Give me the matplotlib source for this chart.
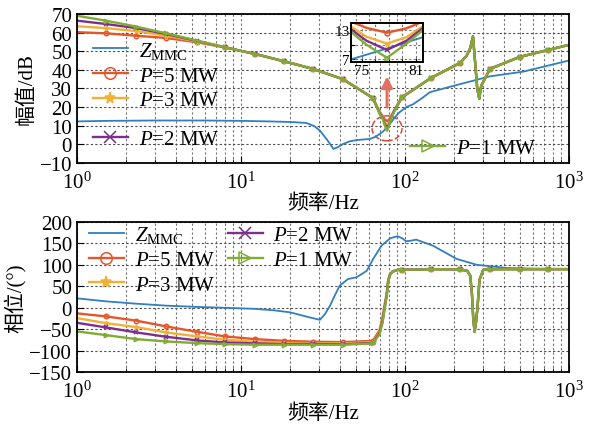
import matplotlib
matplotlib.use('Agg')
import matplotlib.pyplot as plt
from matplotlib.patches import Ellipse
from matplotlib.transforms import ScaledTranslation

plt.rcParams['font.family'] = ['Liberation Serif', 'Noto Sans CJK SC']
plt.rcParams['mathtext.fontset'] = 'custom'
plt.rcParams['mathtext.rm'] = 'Liberation Serif'
plt.rcParams['mathtext.it'] = 'Liberation Serif:italic'
plt.rcParams['font.size'] = 15

# ---- Z_MMC magnitude / phase ----
f_zmag = [1, 1.5, 3, 6, 10, 15, 20, 25, 28, 30.3, 33.5, 36.7, 39, 42, 46, 50.7, 61, 66, 70,
          74, 78, 82, 86, 92, 102, 112, 128, 142, 190, 330, 525, 1000]
zmmc_mag = [12.3, 12.6, 12.8, 12.8, 12.6, 12.3, 12.0, 11.5, 9.8, 7.4, 2.5, -2.5, -1.5, 0.2,
            1.6, 2.3, 2.9, 4.0, 5.5, 7.1, 9.3, 11.6, 14.0, 17.0, 20.0, 21.5, 25.0, 28.0,
            31.0, 36.5, 39.0, 45.0]

f_zph = [1, 1.5, 2.3, 3.5, 5.4, 8, 12.2, 16, 20, 26.3, 30.3, 32.5, 34.9, 37.5, 40, 45, 50.7,
         58.5, 64, 72, 81.5, 90, 96, 101.7, 108, 117, 148, 207, 275, 417, 600, 1000]
zmmc_ph = [22, 15, 9.5, 5, 2, 0, -2.5, -6, -10.7, -22.5, -28, -15, 4.7, 30, 51.4, 67, 71,
           86, 113.7, 144.7, 162, 166.6, 162, 155, 156, 158.7, 144.7, 113.7, 100, 92.7,
           91, 90.5]

# ---- grid-connected impedance, P = 5/3/2/1 MW ----
f_mag = [1, 1.5, 2.3, 3.5, 5.4, 8, 12.2, 18.3, 27.5, 41.8, 63.7,
         70, 73, 75.5, 77.8, 80, 82.5, 86,
         96, 144, 217, 238, 250, 260, 268, 276, 284, 292, 330, 500, 750, 1000]
mag_mid = [48.5, 44.6, 40.5, 35.0, 24.9]
mag_tail = [25.3, 35.6, 43.7, 47.6, 51.5, 58.0, 44.0, 30.0, 24.4, 31.5, 40.5, 46.9,
            50.7, 53.4]
mag_p5 = [60.2, 59.6, 58.3, 57.1, 54.8, 52.0] + mag_mid + \
         [17.5, 15.3, 13.4, 12.4, 13.3, 15.2, 18.3] + mag_tail
mag_p3 = [63.4, 62.4, 60.8, 58.3, 55.2, 52.0] + mag_mid + \
         [17.0, 14.6, 11.6, 10.2, 11.5, 14.6, 18.0] + mag_tail
mag_p2 = [66.4, 64.6, 62.4, 59.2, 55.5, 52.1] + mag_mid + \
         [16.8, 14.2, 10.8, 8.9, 10.8, 14.3, 17.8] + mag_tail
mag_p1 = [69.0, 66.4, 63.2, 59.6, 55.7, 52.1] + mag_mid + \
         [16.5, 13.8, 10.0, 7.3, 10.2, 14.0, 17.5] + mag_tail

f_ph = [1, 1.5, 2.3, 3.5, 5.4, 8, 12.2, 18.3, 27.5, 41.8, 63.7,
        70, 73, 75, 77.5, 79, 81, 84, 90,
        96, 144, 217, 240, 250, 256, 261, 266, 271, 277, 285, 300, 330, 500, 750, 1000]
ph_tail = [88.5, 90, 89.5, 86, 75, 35, -25, -56, -35, 0, 65, 88, 90, 90, 90, 90]
ph_p5 = [-13, -20, -30, -43.4, -56, -66.7, -73, -77, -79, -80, -77,
         -52, -22, 5, 35, 64, 78, 85, 88] + ph_tail
ph_p3 = [-24, -35.7, -45, -57.4, -66.7, -74.5, -79, -82, -82, -83, -80,
         -56, -28, 0, 32, 62, 77, 84.5, 88] + ph_tail
ph_p2 = [-35, -45.7, -57.4, -67.5, -76, -80.7, -83, -84.6, -84, -85, -82,
         -59, -32, -3, 30, 61, 76.5, 84, 88] + ph_tail
ph_p1 = [-55, -63.6, -73, -78.4, -82.3, -84.6, -86, -86, -86, -86, -83,
         -62, -35, -5, 28, 60, 76, 84, 88] + ph_tail

# frequencies carrying a marker
mark_f = [1.5, 2.3, 3.5, 5.4, 8, 12.2, 18.3, 27.5, 41.8, 63.7, 96, 144, 217, 330, 500, 750]
f_dip = 77.8

labels = [r'$Z_{\mathrm{MMC}}$', r'$P$=5 MW', r'$P$=3 MW', r'$P$=2 MW', r'$P$=1 MW']
colors = ['#2f7fc1', '#e5562a', '#f2b134', '#7e2f8e', '#80ac35']
markers = [None, 'o', '*', 'x', '>']

mag_series = [mag_p5, mag_p3, mag_p2, mag_p1]
ph_series = [ph_p5, ph_p3, ph_p2, ph_p1]


def style_axes(ax, ylim, yticks):
    ax.set_xscale('log')
    ax.set_xlim(1, 1000)
    ax.set_ylim(*ylim)
    ax.set_yticks(yticks)
    ax.grid(True, which='both', axis='x', ls=(0, (2, 2)), color='0.45', lw=0.8)
    ax.grid(True, which='major', axis='y', ls=(0, (2, 2)), color='0.3', lw=0.8)
    ax.tick_params(which='both', direction='in', labelsize=15)
    ax.tick_params(which='major', length=5)
    ax.tick_params(which='minor', length=3)
    ax.tick_params(axis='x', which='major', pad=6)
    for s in ax.spines.values():
        s.set_linewidth(1.3)
    ax.set_xlabel('频率/Hz', fontsize=15, labelpad=1)


def draw_curves(ax, f_z, z, f_p, series, ms=3.2, every=None):
    handles = [ax.plot(f_z, z, color=colors[0], lw=1.3)[0]]
    for k, vals in enumerate(series):
        me = every if every is not None else [f_p.index(f) for f in mark_f if f in f_p]
        hnd, = ax.plot(f_p, vals, color=colors[k + 1], lw=1.7, marker=markers[k + 1],
                       ms=ms, mfc='none' if markers[k + 1] in ('o', '>') else colors[k + 1],
                       mew=1.1, markevery=me)
        handles.append(hnd)
    return handles


fig = plt.figure(figsize=(5.92, 4.27), dpi=100)
ax1 = fig.add_axes([0.130, 0.616, 0.831, 0.349])
ax2 = fig.add_axes([0.130, 0.126, 0.831, 0.352])

# magnitude
h = draw_curves(ax1, f_zmag, zmmc_mag, f_mag, mag_series)
style_axes(ax1, (-10, 70), range(-10, 71, 10))
ax1.set_ylabel('幅值/dB', fontsize=15, labelpad=2)

leg_kw = dict(frameon=False, borderpad=0, borderaxespad=0, handlelength=1.7,
              handletextpad=0.5, labelspacing=0.25, markerscale=2.6, fontsize=15)
leg1 = ax1.legend(h[:3], labels[:3], loc='center left', bbox_to_anchor=(0.032, 0.59), **leg_kw)
ax1.add_artist(leg1)
leg2 = ax1.legend(h[3:4], labels[3:4], loc='center left', bbox_to_anchor=(0.032, 0.16), **leg_kw)
ax1.add_artist(leg2)
ax1.legend(h[4:5], labels[4:5], loc='center left', bbox_to_anchor=(0.677, 0.10), **leg_kw)

# dashed circle round the dip and the arrow up to the zoomed view
ring = Ellipse((0, 0), 0.30, 0.25, fill=False, ls='--', ec='#e0453a', lw=1.1,
               transform=fig.dpi_scale_trans + ScaledTranslation(f_dip, 8.6, ax1.transData))
ax1.add_patch(ring)
ax1.annotate('', xy=(f_dip, 38), xytext=(f_dip, 18.5),
             arrowprops=dict(arrowstyle='-|>', color='#e2705f', lw=2.2, mutation_scale=16))

axins = ax1.inset_axes([0.557, 0.676, 0.146, 0.264])
draw_curves(axins, f_zmag, zmmc_mag, f_mag, mag_series, ms=3.5, every=[f_mag.index(f_dip)])
axins.set_xlim(73.8, 81.8)
axins.set_ylim(6.4, 14.4)
axins.set_xticks([75, 76.5, 78, 79.5, 81])
axins.set_xticklabels(['75', '', '', '', '81'])
axins.set_yticks([7, 10, 13])
axins.set_yticklabels(['7', '', '13'])
axins.grid(True, ls=(0, (2, 2)), color='0.45', lw=0.8)
axins.tick_params(direction='in', labelsize=11, length=3, pad=1)
for s in axins.spines.values():
    s.set_linewidth(1.4)

# phase
h = draw_curves(ax2, f_zph, zmmc_ph, f_ph, ph_series)
style_axes(ax2, (-150, 200), range(-150, 201, 50))
ax2.set_ylabel('相位/(°)', fontsize=15, labelpad=2)
ax2.legend(h, labels, ncol=2, loc='upper left', bbox_to_anchor=(0.024, 0.985),
           columnspacing=0.6, **leg_kw)

fig.savefig('out.png', dpi=100)
